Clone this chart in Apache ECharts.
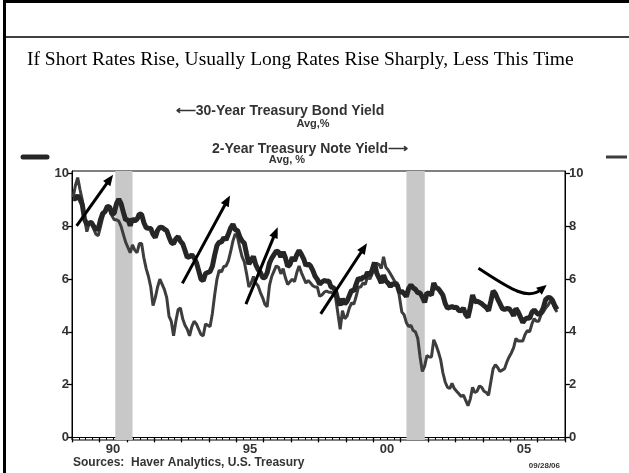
<!DOCTYPE html>
<html><head><meta charset="utf-8">
<script src="https://cdn.jsdelivr.net/npm/echarts@6/dist/echarts.min.js"></script>
<style>html,body{margin:0;padding:0;background:#fff}#c{width:629px;height:473px}</style>
</head><body><div id="c"></div>
<script>
// Monthly averages, starting January 1989
const startYear = 1989;
const bond30 = [
  9.05, 9.05, 9.17, 9.03, 8.83, 8.27, 8.08, 8.12, 8.15, 8.00, 7.90, 7.90,
  8.26, 8.50, 8.56, 8.76, 8.73, 8.46, 8.50, 8.86, 9.03, 8.86, 8.54, 8.24,
  8.27, 8.03, 8.29, 8.21, 8.27, 8.47, 8.45, 8.14, 7.95, 7.93, 7.92, 7.70,
  7.58, 7.85, 7.97, 7.96, 7.89, 7.84, 7.60, 7.39, 7.34, 7.53, 7.61, 7.44,
  7.34, 7.09, 6.82, 6.85, 6.92, 6.81, 6.63, 6.32, 6.00, 5.94, 6.21, 6.25,
  6.29, 6.49, 6.91, 7.27, 7.41, 7.40, 7.58, 7.49, 7.71, 7.94, 8.08, 7.87,
  7.85, 7.61, 7.45, 7.36, 6.95, 6.57, 6.72, 6.86, 6.55, 6.37, 6.26, 6.06,
  6.05, 6.24, 6.60, 6.79, 6.93, 7.06, 7.03, 6.84, 7.03, 6.81, 6.48, 6.55,
  6.83, 6.69, 6.93, 7.09, 6.94, 6.77, 6.51, 6.58, 6.50, 6.33, 6.11, 5.99,
  5.81, 5.89, 5.95, 5.92, 5.93, 5.70, 5.68, 5.54, 5.20, 5.01, 5.25, 5.06,
  5.16, 5.37, 5.58, 5.55, 5.81, 6.04, 5.98, 6.07, 6.07, 6.26, 6.15, 6.35,
  6.63, 6.23, 6.05, 5.85, 6.15, 5.93, 5.85, 5.72, 5.83, 5.80, 5.78, 5.49,
  5.54, 5.45, 5.34, 5.65, 5.78, 5.67, 5.61, 5.48, 5.48, 5.32, 5.12, 5.48,
  5.45, 5.40, 5.85, 5.67, 5.64, 5.52, 5.39, 5.08, 4.90, 4.93, 4.96, 4.92,
  4.94, 4.81, 4.80, 4.90, 4.65, 4.55, 4.93, 5.40, 5.14, 5.16, 5.12, 5.07,
  4.99, 4.93, 4.80, 5.16, 5.55, 5.45, 5.24, 5.07, 4.89, 4.85, 4.89, 4.88,
  4.77, 4.61, 4.89, 4.75, 4.56, 4.35, 4.48, 4.53, 4.51, 4.74, 4.83, 4.73,
  4.65, 4.73, 4.91, 5.22, 5.30, 5.29, 5.20, 5.00, 4.85
];
const note2 = [
  9.10, 9.55, 9.85, 9.40, 9.00, 8.30, 7.80, 8.10, 8.20, 7.90, 7.70, 7.65,
  8.00, 8.35, 8.60, 8.80, 8.65, 8.40, 8.25, 8.25, 8.20, 8.00, 7.70, 7.40,
  7.20, 7.00, 7.30, 7.10, 7.00, 7.35, 7.35, 6.80, 6.40, 6.10, 5.70, 5.00,
  5.30, 5.70, 6.00, 5.80, 5.60, 5.30, 4.60, 4.40, 3.85, 4.40, 4.85, 4.90,
  4.50, 4.25, 4.10, 3.85, 4.20, 4.40, 4.30, 4.10, 3.90, 3.85, 4.30, 4.25,
  4.20, 4.70, 5.40, 5.99, 6.34, 6.27, 6.48, 6.50, 6.69, 7.04, 7.44, 7.71,
  7.60, 7.20, 6.85, 6.65, 6.20, 5.70, 5.85, 6.10, 5.85, 5.75, 5.50, 5.30,
  5.05, 4.95, 5.75, 6.10, 6.30, 6.50, 6.45, 6.20, 6.40, 6.05, 5.80, 5.90,
  6.00, 5.90, 6.25, 6.50, 6.25, 6.05, 5.85, 5.95, 5.85, 5.75, 5.70, 5.70,
  5.35, 5.40, 5.50, 5.55, 5.50, 5.50, 5.45, 5.30, 4.70, 4.10, 4.80, 4.50,
  4.60, 4.90, 5.10, 5.05, 5.35, 5.70, 5.70, 5.85, 5.80, 6.10, 6.00, 6.20,
  6.45, 6.60, 6.55, 6.40, 6.85, 6.45, 6.35, 6.20, 6.05, 5.90, 5.85, 5.30,
  4.75, 4.65, 4.35, 4.20, 4.25, 4.05, 4.00, 3.75, 3.05, 2.50, 2.70, 3.10,
  3.05, 3.05, 3.70, 3.50, 3.25, 2.95, 2.45, 2.10, 1.90, 1.85, 2.05, 1.85,
  1.75, 1.65, 1.55, 1.60, 1.40, 1.20, 1.45, 1.90, 1.70, 1.75, 1.95, 1.90,
  1.75, 1.70, 1.60, 2.10, 2.60, 2.75, 2.65, 2.50, 2.55, 2.60, 2.85, 3.05,
  3.20, 3.40, 3.75, 3.65, 3.65, 3.65, 3.90, 4.05, 4.00, 4.30, 4.50, 4.40,
  4.40, 4.65, 4.75, 4.90, 5.00, 5.15, 5.10, 4.90, 4.75
];
const yTicks = [0, 2, 4, 6, 8, 10];
const yearTicks = [1989,1990,1991,1992,1993,1994,1995,1996,1997,1998,1999,2000,2001,2002,2003,2004,2005,2006,2007];
const xLabelYears = [1990, 1995, 2000, 2005];
const xLabelText = ['90', '95', '00', '05'];
const recessions = [[1990.58, 1991.21], [2001.21, 2001.88]];
// annotation arrows: [x1, y1, x2, y2] in years / percent
const arrows = [
  [1989.17, 8.02, 1990.50, 9.96],
  [1993.03, 5.84, 1994.77, 9.17],
  [1995.35, 5.05, 1996.51, 7.97],
  [1998.08, 4.68, 1999.77, 7.36]
];
// curved arrow: start, control 1, control 2, end
const curvedArrow = [[2003.84, 6.41, 2004.85, 5.74, 2005.60, 5.15, 2006.33, 5.78]];

const months = bond30.map((_, i) => startYear + (i + 0.5) / 12);
const bondData = bond30.map((v, i) => [months[i], v]);
const noteData = note2.map((v, i) => [months[i], v]);

const labelFont = {fontFamily: 'Liberation Sans, Arial, sans-serif', fontWeight: 'bold', fontSize: 13, color: '#333'};

function headPoly(tip, dx, dy, len, half) {
  const d = Math.sqrt(dx*dx + dy*dy) || 1;
  const ux = dx / d, uy = dy / d;
  const bx = tip[0] - ux * len, by = tip[1] - uy * len;
  return [[tip[0], tip[1]], [bx - uy * half, by + ux * half], [bx + uy * half, by - ux * half]];
}

const chart = echarts.init(document.getElementById('c'), null, {renderer: 'canvas'});
chart.setOption({
  animation: false,
  backgroundColor: '#fff',
  grid: {left: 72, right: 64, top: 171, bottom: 33, show: true, borderColor: '#000', borderWidth: 1, outerBoundsMode: 'none', containLabel: false},
  xAxis: [{
    type: 'value', min: 1989, max: 2007, position: 'bottom',
    axisLine: {show: true, lineStyle: {color: '#000', width: 1}},
    axisTick: {show: true, customValues: yearTicks, length: 5, lineStyle: {color: '#000', width: 1.3}},
    axisLabel: Object.assign({customValues: xLabelYears.map(y => y + 0.5), margin: 3,
      formatter: v => xLabelText[xLabelYears.indexOf(Math.round(v - 0.5))] || ''}, labelFont),
    splitLine: {show: false}
  }, {
    type: 'value', min: 1989, max: 2007, interval: 0.25, position: 'bottom',
    axisLine: {show: false},
    axisTick: {show: true, length: 2.5, lineStyle: {color: '#000'}},
    axisLabel: {show: false}, splitLine: {show: false}
  }],
  yAxis: [{
    type: 'value', min: -0.1, max: 10.1, position: 'left',
    axisLine: {show: true, lineStyle: {color: '#000'}},
    axisTick: {show: true, customValues: yTicks, length: 5, lineStyle: {color: '#000', width: 1.3}},
    axisLabel: Object.assign({customValues: yTicks, margin: 3}, labelFont),
    splitLine: {show: false}
  }, {
    type: 'value', min: -0.1, max: 10.1, position: 'right',
    axisLine: {show: true, lineStyle: {color: '#000'}},
    axisTick: {show: true, customValues: yTicks, length: 5, lineStyle: {color: '#000', width: 1.3}},
    axisLabel: Object.assign({customValues: yTicks, margin: 4}, labelFont),
    splitLine: {show: false}
  }],
  series: [{
    name: '2-Year Treasury Note Yield', type: 'line', yAxisIndex: 1, data: noteData,
    showSymbol: false, symbol: 'none', z: 3,
    lineStyle: {color: '#3d3d3d', width: 3},
    markArea: {silent: true, itemStyle: {color: '#c8c8c8'},
      data: recessions.map(r => [{xAxis: r[0]}, {xAxis: r[1]}])}
  }, {
    name: '30-Year Treasury Bond Yield', type: 'line', yAxisIndex: 0, data: bondData,
    showSymbol: false, symbol: 'none', z: 4,
    lineStyle: {color: '#262626', width: 5}
  }, {
    type: 'custom', xAxisIndex: 0, yAxisIndex: 0, data: arrows, z: 6, clip: false,
    renderItem: (params, api) => {
      const p1 = api.coord([api.value(0), api.value(1)]);
      const p2 = api.coord([api.value(2), api.value(3)]);
      const dx = p2[0] - p1[0], dy = p2[1] - p1[1];
      const d = Math.sqrt(dx*dx + dy*dy);
      const end = [p2[0] - dx / d * 8, p2[1] - dy / d * 8];
      return {type: 'group', children: [
        {type: 'line', shape: {x1: p1[0], y1: p1[1], x2: end[0], y2: end[1]}, style: {stroke: '#000', lineWidth: 3}},
        {type: 'polygon', shape: {points: headPoly(p2, dx, dy, 11, 4.5)}, style: {fill: '#000'}}
      ]};
    }
  }, {
    type: 'custom', xAxisIndex: 0, yAxisIndex: 0, data: curvedArrow, z: 6, clip: false,
    renderItem: (params, api) => {
      const s = api.coord([api.value(0), api.value(1)]);
      const c1 = api.coord([api.value(2), api.value(3)]);
      const c2 = api.coord([api.value(4), api.value(5)]);
      const e = api.coord([api.value(6), api.value(7)]);
      const dx = e[0] - c2[0], dy = e[1] - c2[1];
      const d = Math.sqrt(dx*dx + dy*dy);
      const end = [e[0] - dx / d * 7, e[1] - dy / d * 7];
      return {type: 'group', children: [
        {type: 'bezierCurve', shape: {x1: s[0], y1: s[1], x2: end[0], y2: end[1], cpx1: c1[0], cpy1: c1[1], cpx2: c2[0], cpy2: c2[1]}, style: {stroke: '#000', lineWidth: 3, fill: null}},
        {type: 'polygon', shape: {points: headPoly(e, dx, dy, 10, 4.5)}, style: {fill: '#000'}}
      ]};
    }
  }],
  graphic: [
    {type: 'line', shape: {x1: 3, y1: 1.5, x2: 629, y2: 1.5}, style: {stroke: '#000', lineWidth: 3}, silent: true},
    {type: 'line', shape: {x1: 4.5, y1: 0, x2: 4.5, y2: 473}, style: {stroke: '#000', lineWidth: 3}, silent: true},
    {type: 'line', shape: {x1: 4, y1: 37, x2: 629, y2: 37}, style: {stroke: '#000', lineWidth: 1.5}, silent: true},
    {type: 'text', x: 27, y: 60, style: {text: 'If Short Rates Rise, Usually Long Rates Rise Sharply, Less This Time', font: '19.5px "Liberation Serif", "Times New Roman", serif', fill: '#000', verticalAlign: 'middle'}},
    {type: 'text', x: 280, y: 111, style: {text: '\u27F530-Year Treasury Bond Yield', font: 'bold 14px "Liberation Sans", Arial, sans-serif', fill: '#333', align: 'center', verticalAlign: 'middle'}},
    {type: 'text', x: 313, y: 124, style: {text: 'Avg,%', font: 'bold 11px "Liberation Sans", Arial, sans-serif', fill: '#333', align: 'center', verticalAlign: 'middle'}},
    {type: 'text', x: 310, y: 149, style: {text: '2-Year Treasury Note Yield\u27F6', font: 'bold 14px "Liberation Sans", Arial, sans-serif', fill: '#333', align: 'center', verticalAlign: 'middle'}},
    {type: 'text', x: 287, y: 160, style: {text: 'Avg, %', font: 'bold 11px "Liberation Sans", Arial, sans-serif', fill: '#333', align: 'center', verticalAlign: 'middle'}},
    {type: 'line', shape: {x1: 23, y1: 157, x2: 47, y2: 157}, style: {stroke: '#262626', lineWidth: 5, lineCap: 'round'}, silent: true},
    {type: 'line', shape: {x1: 606, y1: 157, x2: 627, y2: 157}, style: {stroke: '#3d3d3d', lineWidth: 3}, silent: true},
    {type: 'text', x: 73, y: 463, style: {text: 'Sources:  Haver Analytics, U.S. Treasury', font: 'bold 12px "Liberation Sans", Arial, sans-serif', fill: '#333', verticalAlign: 'middle'}},
    {type: 'text', x: 560, y: 466, style: {text: '09/28/06', font: 'bold 8px "Liberation Sans", Arial, sans-serif', fill: '#333', align: 'right', verticalAlign: 'middle'}}
  ]
});
</script>
</body></html>
